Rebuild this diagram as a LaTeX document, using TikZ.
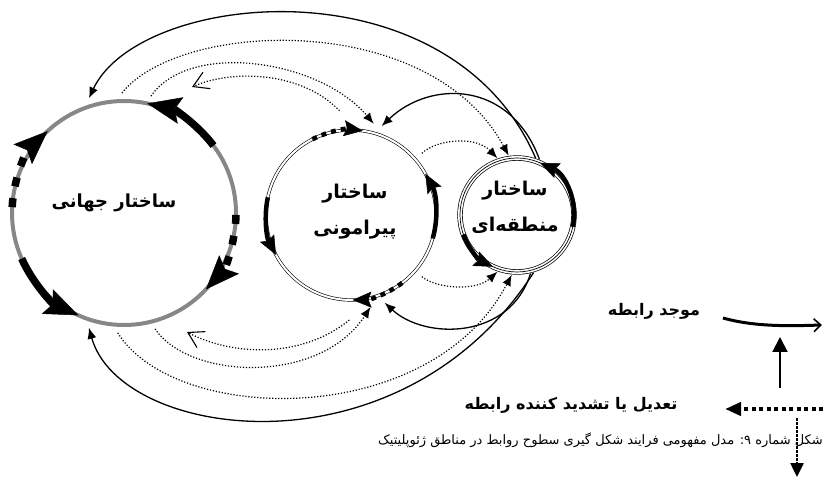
\documentclass[tikz,border=0pt]{standalone}
\usepackage{fontspec}
\usetikzlibrary{arrows.meta,positioning}
\TeXXeTstate=1
\newfontfamily\farsi[Script=Arabic]{DejaVu Sans}
\definecolor{ringgray}{HTML}{878787}

\begin{document}
\begin{tikzpicture}[
  x=1pt, y=1pt,
  lbl/.style={align=center, inner sep=0pt, font=\farsi\bfseries\fontsize{19}{36}\selectfont},
  leglbl/.style={inner sep=0pt, font=\farsi\bfseries\fontsize{16}{18}\selectfont},
  caplbl/.style={inner sep=0pt, font=\farsi\fontsize{13}{16}\selectfont},
  globring/.style={circle, draw=ringgray, line width=4pt, minimum size=224pt, inner sep=0pt, outer sep=8pt},
  perring/.style={circle, draw, line width=0.6pt, double, double distance=2pt, minimum size=170pt, inner sep=0pt, outer sep=9pt},
  regring/.style={circle, draw, line width=0.7pt, double, double distance=4pt, minimum size=114pt, inner sep=0pt, outer sep=3pt},
  globarr/.style={line width=7.5pt, -{Stealth[length=34pt, width=27pt, inset=6pt, line width=0.5pt]}},
  smallarr/.style={line width=4.5pt, -{Stealth[length=19pt, width=16pt, inset=3pt, line width=0.5pt]}},
  globdash/.style={dash pattern=on 9pt off 12pt},
  perdash/.style={dash pattern=on 5pt off 5pt},
  rel/.style={line width=1.3pt, ->},
  mod/.style={line width=1.2pt, dash pattern=on 1.2pt off 1.8pt, ->},
  modopen/.style={line width=1.2pt, dash pattern=on 1.2pt off 1.8pt, -{Straight Barb[length=15pt, width=18pt, line width=1.1pt]}},
  >={Latex[length=11pt, width=9pt]}
]
\useasboundingbox (0,0) rectangle (823,480);
\clip (0,0) rectangle (823,480);

\node[globring] (glob) at (124,267) {};
\node[perring] (per) at (351,265) {};
\node[regring] (reg) at (517,265) {};
\draw[line width=0.7pt] (reg.center) circle[radius=57];

\node[lbl, font=\farsi\bfseries\fontsize{18}{36}\selectfont] (globtxt) at (114,277) {\beginR ساختار جهانی\endR};
\node[lbl] (pertxt) at (355,268) {ساختار\\پیرامونی};
\node[lbl] (regtxt) at (515,273) {ساختار\\منطقه^^^^200cای};

\draw[globarr] ([shift={(37:112)}]glob.center) arc[start angle=37, end angle=78, radius=112];
\draw[globarr, globdash] ([shift={(177:112)}]glob.center) arc[start angle=177, end angle=133, radius=112];
\draw[globarr, globdash] ([shift={(-1:112)}]glob.center) arc[start angle=-1, end angle=-43, radius=112];
\draw[globarr] ([shift={(204:112)}]glob.center) arc[start angle=204, end angle=246, radius=112];

\draw[smallarr] ([shift={(-16:85)}]per.center) arc[start angle=-16, end angle=29, radius=85];
\draw[smallarr] ([shift={(168:85)}]per.center) arc[start angle=168, end angle=208, radius=85];
\draw[smallarr, perdash] ([shift={(117:85)}]per.center) arc[start angle=117, end angle=82, radius=85];
\draw[smallarr, perdash] ([shift={(-53:85)}]per.center) arc[start angle=-53, end angle=-89, radius=85];

\draw[smallarr] ([shift={(-12:57)}]reg.center) arc[start angle=-12, end angle=66, radius=57];
\draw[smallarr] ([shift={(200:57)}]reg.center) arc[start angle=200, end angle=245, radius=57];

\draw[rel] (reg.72) .. controls (450,520) and (140,490) .. (glob.107);
\draw[rel] (reg.68) .. controls (510,400) and (430,400) .. (per.71);
\draw[rel] (reg.-74) .. controls (400,0) and (120,40) .. (glob.-107);
\draw[rel] (reg.-77) .. controls (510,140) and (425,140) .. (per.-69);

\coordinate (gtipA) at (192,393);
\coordinate (gtipB) at (187,148);
\draw[mod] (glob.91) .. controls (180,460) and (430,470) .. (reg.98);
\draw[mod] (glob.77) .. controls (190,440) and (320,420) .. (per.76);
\draw[modopen] ([yshift=11pt]per.97) .. controls (300,410) and (230,410) .. (gtipA);
\draw[mod] (per.41) .. controls (435,340) and (475,345) .. (reg.109);
\draw[mod] (glob.267) .. controls (175,55) and (430,50) .. (reg.265);
\draw[mod] (glob.285) .. controls (190,100) and (320,95) .. (per.282);
\draw[modopen] ([yshift=-11pt]per.269) .. controls (300,120) and (230,125) .. (gtipB);
\draw[mod] (per.-41) .. controls (435,192) and (475,188) .. (reg.251);

\node[leglbl] (legrel) at (654,169) {\beginR موجد رابطه\endR};
\node[leglbl] (legmod) at (571,75) {\beginR تعدیل یا تشدید کننده رابطه\endR};
\coordinate (relA) at (723,162);
\coordinate (relB) at (822,155);
\coordinate (upA) at (780,92);
\coordinate (upB) at (780,143);
\coordinate (modA) at (823,71);
\coordinate (modB) at (725,71);
\coordinate (dnA) at (797,62);
\coordinate (dnB) at (797,3);
\draw[line width=3pt, -{Straight Barb[length=7pt, width=13pt, line width=1.6pt]}] (relA) .. controls (755,153) and (790,154) .. (relB);
\draw[line width=2pt, -{Triangle[length=15pt, width=15pt]}] (upA) -- (upB);
\draw[line width=4.5pt, dash pattern=on 4pt off 3.5pt, -{Triangle[length=16pt, width=13pt]}] (modA) -- (modB);
\draw[line width=2.5pt, dash pattern=on 2.5pt off 1.5pt, -{Triangle[length=14pt, width=13pt]}] (dnA) -- (dnB);

\node[caplbl, anchor=west] (cap) at (378,40) {\beginR شکل شماره \beginL۹:\endL{} مدل مفهومی فرایند شکل گیری سطوح روابط در مناطق ژئوپلیتیک\endR};
\end{tikzpicture}
\end{document}
